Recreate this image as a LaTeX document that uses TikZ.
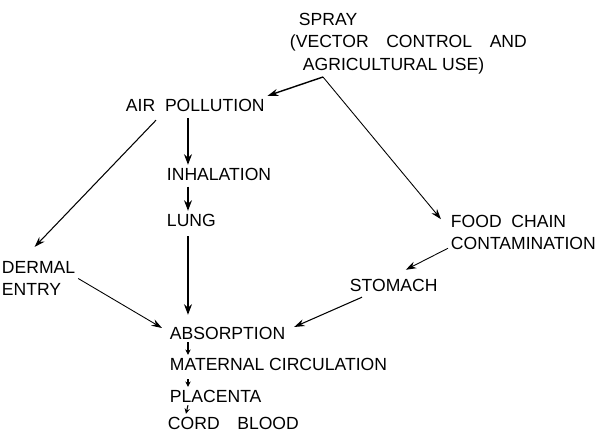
\documentclass[tikz,border=0pt]{standalone}
\usepackage{fontspec}
\setmainfont{Liberation Sans}
\usetikzlibrary{arrows.meta}
\tikzset{
  lbl/.style={anchor=west,inner sep=1.5pt,font=\fontsize{10}{12}\selectfont},
  flow/.style={-{Stealth[length=6pt,width=4.5pt]},line width=1pt},
  feed/.style={-{Stealth[length=6pt,width=4pt]},line width=0.5pt},
  tick/.style={-{Stealth[length=3pt,width=3pt]},line width=0.6pt},
}
\begin{document}
\begin{tikzpicture}[x=0.02cm,y=-0.02cm]
    \useasboundingbox (0,0) rectangle (599,431);
    \node[lbl] (spray) at (296,19) {SPRAY};
    \node[lbl,text depth=0pt] (vector) at (287,41) {(VECTOR\quad CONTROL\quad AND};
    \node[lbl,text depth=0pt] (agri) at (300,64) {AGRICULTURAL USE)};
    \coordinate (fork) at (323,77);
    \node[lbl] (air) at (123,105) {AIR\ \ POLLUTION};
    \node[lbl] (inhal) at (164,174) {INHALATION};
    \node[lbl] (lung) at (164,220) {LUNG};
    \node[lbl,align=left] (dermal) at (-1,278.5) {DERMAL\\ENTRY};
    \node[lbl,align=left] (food) at (448,232.5) {FOOD\ \ CHAIN\\CONTAMINATION};
    \node[lbl] (stomach) at (347,285) {STOMACH};
    \node[lbl] (absorp) at (167,333) {ABSORPTION};
    \node[lbl] (maternal) at (167,364) {MATERNAL CIRCULATION};
    \node[lbl] (placenta) at (167,396) {PLACENTA};
    \node[lbl] (cord) at (165,423) {CORD\quad BLOOD};
    \draw[feed,line width=0.8pt] (fork) -- (air.north east);
    \draw[feed] (fork) -- ([xshift=-4pt]food.170);
    \draw[feed,line width=0.6pt] ([shift={(0.66cm,-0.12cm)}]air.south west) -- ([shift={(-0.08cm,0.24cm)}]dermal.north);
    \draw[flow] ([shift={(1.3cm,-0.08cm)}]air.south west) -- ([xshift=0.48cm]inhal.north west);
    \draw[flow,line width=0.7pt,shorten <=2pt] ([xshift=0.48cm]inhal.south west) -- ([xshift=0.48cm]lung.north west);
    \draw[flow,shorten <=0.14cm,shorten >=0.18cm] ([xshift=0.48cm]lung.south west) -- ([xshift=0.42cm]absorp.north west);
    \draw[feed] (dermal.east) -- ([shift={(-0.1cm,0.1cm)}]absorp.west);
    \draw[feed] ([yshift=0.08cm]food.south west) -- ([shift={(0.24cm,0.12cm)}]stomach.north);
    \draw[feed,line width=0.6pt] ([shift={(0.3cm,-0.06cm)}]stomach.south west) -- ([shift={(0.12cm,0.12cm)}]absorp.east);
    \draw[tick] ([xshift=0.42cm]absorp.south west) -- ([xshift=0.42cm]maternal.north west);
    \draw[tick,shorten <=0.12cm] ([xshift=0.42cm]maternal.south west) -- ([xshift=0.42cm]placenta.north west);
    \draw[tick] ([xshift=0.42cm]placenta.south west) -- ([xshift=0.42cm]cord.north west);
\end{tikzpicture}
\end{document}
